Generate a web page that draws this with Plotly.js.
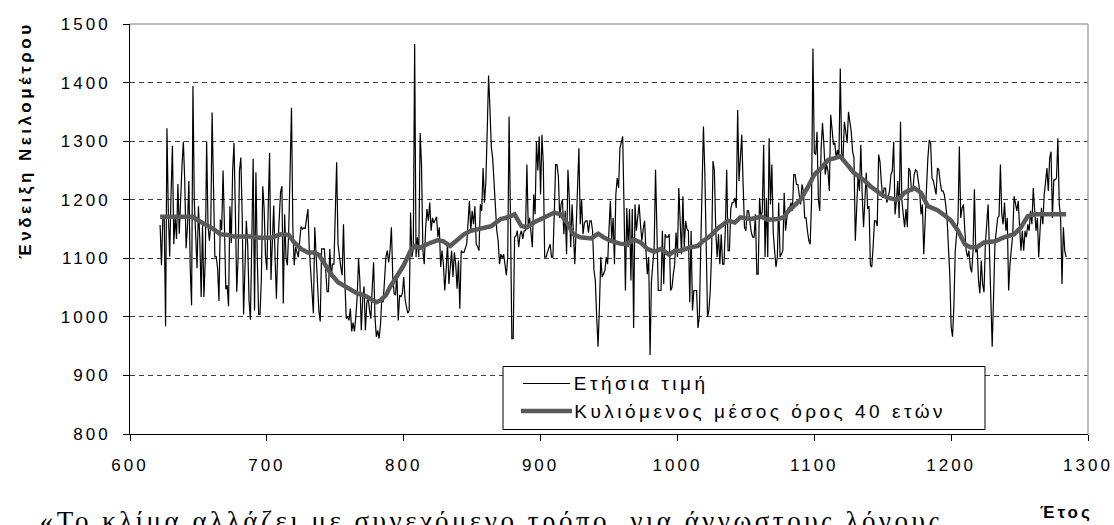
<!DOCTYPE html>
<html>
<head>
<meta charset="utf-8">
<script src="https://cdn.plot.ly/plotly-3.0.1.min.js"></script>
<style>
html,body{margin:0;padding:0;background:#fff;}
#chart{width:1114px;height:525px;}
#chart .xtick text,#chart .ytick text{letter-spacing:3px;}
#chart .annotation[data-index="0"] text{letter-spacing:3.5px;}
#chart .annotation[data-index="1"] text{letter-spacing:3px;}
#chart .annotation[data-index="2"] text{letter-spacing:3.5px;}
#chart .annotation[data-index="3"] text{letter-spacing:3.5px;}
#chart .annotation[data-index="4"] text{letter-spacing:3.5px;}
</style>
</head>
<body>
<div id="chart"></div>
<script>
// Annual Nilometer readings, first year 622
const firstYear = 622;
const vals600s = [1157,1088,1169,1169,984,1322,1178,1103,
1211,1292,1124,1171,1133,1227,1142,1216,1259,1299,
1232,1117,1155,1232,1083,1020,1394,1196,1148,1083,
1189,1133,1034,1157,1034,1097,1299,1157,1130,1155,
1349,1232,1103,1103,1083,1027,1166,1148,1250,1155,
1047,1054,1018,1189,1126,1250,1297,1178,1043,1103,
1250,1272,1169,1004,1083,1164,1124,1027,995,1169,
1270,1011,1247,1101,1004,1004,1065,1223,1185,1105];
const vals700s = [1080,1188,1280,1063,1126,1190,1100,1031,1120,1180,
1212,1223,1023,1175,1100,1088,1150,1250,1357,1150,
1088,1119,1110,1102,1130,1154,1150,1152,1151,1170,
1184,1116,1080,1045,1006,1153,1100,1040,1010,992,
1116,1116,1116,1080,1043,1043,1116,1068,1090,1090,
1180,1264,1124,1099,1085,1071,1158,1060,997,1000,
994,1014,975,990,975,1000,1034,1099,1060,977,
1030,1052,977,1023,1034,1011,997,1050,1093,1000,
966,977,963,986,1031,1025,1060,1102,1113,1093,
1113,1153,1068,1040,1037,1073,994,1037,1034,1040];
const vals800s = [1068,1030,1017,1006,1011,1178,1102,1116,1466,1102,
1136,1102,1314,1260,1113,1090,1150,1184,1164,1195,
1147,1169,1160,1165,1171,1136,1153,1085,1113,1090,
1045,1080,1127,1056,1090,1113,1068,1110,1090,1048,
1096,1014,1113,1110,1110,1119,1124,1160,1198,1147,
1181,1158,1189,1124,1120,1113,1192,1181,1254,1195,
1230,1316,1412,1356,1290,1271,1232,1192,1147,1130,
1090,1107,1100,1107,1090,1071,1102,1342,1169,963,
963,1136,1138,1147,1119,1140,1147,1133,1147,1147,
1260,1153,1169,1140,1119,1209,1175,1299,1250,1308];
const vals900s = [1209,1311,1260,1102,1102,1110,1119,1124,1102,1102,
1175,1260,1260,1240,1169,1192,1200,1141,1181,1107,
1251,1203,1119,1192,1144,1090,1150,1215,1288,1158,
1200,1141,1160,1164,1164,1144,1164,1164,1147,1080,
1062,1000,949,1017,1102,1068,1073,1079,1102,1090,
1150,1198,1130,1169,1090,1209,1237,1220,1288,1297,
1308,1184,1045,1186,1119,1184,1062,1184,981,1192,
1147,1170,1192,1158,1130,1150,1164,1113,1073,1102,
935,1060,1096,1119,1251,1119,1045,1045,1045,1147,
1056,1141,1136,1136,1141,1045,1050,1073,1090,1144];
const vals1000s = [1102,1220,1153,1107,1206,1119,1164,1150,1147,1025,
1147,1011,1045,1045,1045,981,1000,1113,1226,1325,
1249,1124,1000,1011,1045,1113,1266,1250,1147,1102,
1141,1090,1141,1090,1090,1150,1251,1113,1113,1184,
1195,1195,1203,1186,1353,1232,1270,1311,1226,1153,
1147,1181,1181,1160,1144,1136,1136,1175,1073,1073,
1203,1169,1180,1294,1102,1203,1102,1305,1192,1260,
1144,1113,1085,1102,1195,1102,1107,1113,1212,1147,
1169,1186,1186,1195,1181,1243,1243,1226,1226,1203,
1192,1226,1215,1169,1169,1147,1130,1124,1198,1458];
const vals1100s = [1280,1277,1316,1200,1181,1288,1331,1294,1243,1260,
1249,1215,1345,1320,1294,1297,1271,1285,1271,1424,
1280,1271,1333,1316,1297,1350,1330,1316,1282,1271,
1130,1200,1243,1215,1294,1209,1153,1200,1246,1184,
1189,1088,1085,1120,1164,1164,1155,1277,1265,1230,
1203,1220,1220,1195,1205,1215,1243,1249,1299,1175,
1198,1232,1169,1333,1198,1170,1153,1184,1153,1254,
1249,1215,1215,1243,1251,1249,1230,1215,1175,1192,
1107,1181,1220,1271,1302,1297,1237,1232,1220,1209,
1254,1251,1230,1215,1215,1209,1192,1169,1120,1073];
const vals1200s = [983,966,1017,1113,1141,1164,1291,1169,1186,1192,
1147,1113,1102,1113,1085,1076,1113,1218,1110,1119,
1062,1040,1096,1056,1042,1124,1158,1192,1113,1034,
949,1034,1124,1147,1169,1172,1260,1175,1158,1195,
1147,1169,1045,1090,1113,1141,1206,1192,1181,1198,
1160,1113,1147,1113,1147,1136,1158,1147,1181,1158,
1220,1181,1147,1169,1102,1150,1186,1158,1209,1230,
1254,1215,1271,1282,1169,1234,1234,1237,1305,1192,
1169,1056,1153,1113,1102];

// 40-year rolling mean
const maYears = [622,646,651,656,661,666,671,676,681,688,695,703,710,716,720,725,730,734,738,742,747,752,756,761,766,771,776,780,783,787,790,795,800,805,808,812,817,825,829,834,839,844,849,856,864,871,876,881,886,890,895,903,910,915,920,924,929,937,942,946,951,958,963,968,973,978,983,988,994,998,1002,1010,1015,1019,1024,1029,1037,1042,1046,1054,1061,1066,1073,1078,1080,1085,1090,1095,1100,1105,1110,1115,1119,1124,1129,1137,1141,1149,1154,1161,1166,1173,1178,1183,1190,1197,1200,1205,1210,1214,1219,1224,1232,1239,1246,1251,1256,1261,1284];
const maValues = [1171,1171,1163,1157,1150,1141,1140,1137,1137,1137,1135,1135,1141,1140,1127,1116,1110,1110,1106,1090,1073,1059,1054,1046,1040,1037,1031,1025,1028,1037,1051,1068,1088,1113,1121,1118,1124,1131,1129,1121,1130,1141,1147,1150,1155,1167,1170,1175,1155,1153,1161,1170,1178,1175,1158,1141,1136,1134,1142,1136,1130,1125,1124,1132,1127,1116,1111,1116,1106,1113,1113,1119,1121,1130,1138,1150,1164,1161,1170,1167,1171,1166,1167,1170,1178,1189,1200,1220,1243,1254,1268,1271,1274,1260,1246,1232,1223,1209,1203,1200,1212,1220,1212,1189,1182,1170,1164,1147,1124,1119,1119,1127,1129,1136,1141,1153,1172,1175,1175];

const seriesNames = ['Ετήσια τιμή', 'Κυλιόμενος μέσος όρος 40 ετών'];
const yTitle = 'Ένδειξη Νειλομέτρου';
const xTitle = 'Έτος';
const quote = '«Το κλίμα αλλάζει με συνεχόμενο τρόπο, για άγνωστους λόγους';

const annual = [].concat(vals600s, vals700s, vals800s, vals900s, vals1000s, vals1100s, vals1200s);
const years = annual.map((_, i) => firstYear + i);

const FONT = 'Liberation Sans, Arial, sans-serif';
const RAW_COLOR = '#000000', MA_COLOR = '#595959';
const traces = [
  {x: years, y: annual, type: 'scatter', mode: 'lines', name: seriesNames[0],
   line: {color: RAW_COLOR, width: 1.2}, showlegend: false},
  {x: maYears, y: maValues, type: 'scatter', mode: 'lines', name: seriesNames[1],
   line: {color: MA_COLOR, width: 4.5}, showlegend: false}
];

// legend box drawn in paper coordinates (plot area: x 130..1088 px, y 24.5..434.5 px)
const px = v => (v - 130) / 958;
const py = v => (434.5 - v) / 410;

const layout = {
  width: 1114, height: 525,
  margin: {l: 130, r: 26, t: 24, b: 91, pad: 0},
  paper_bgcolor: '#ffffff', plot_bgcolor: '#ffffff',
  font: {family: FONT, size: 17, color: '#000000'},
  showlegend: false,
  xaxis: {range: [600, 1300], dtick: 100, tick0: 600, showgrid: false, zeroline: false,
          showline: true, linecolor: '#000000', linewidth: 1,
          ticks: 'outside', ticklen: 6, tickcolor: '#000000', tickwidth: 1,
          ticklabelstandoff: 10,
          tickfont: {family: FONT, size: 17, color: '#000000'}},
  yaxis: {range: [800, 1500], dtick: 100, tick0: 800, zeroline: false,
          showgrid: true, gridcolor: '#404040', gridwidth: 1, griddash: '5px,4px',
          showline: true, linecolor: '#000000', linewidth: 1,
          ticks: 'outside', ticklen: 6, tickcolor: '#000000', tickwidth: 1,
          ticklabelstandoff: 9,
          tickfont: {family: FONT, size: 17, color: '#000000'}},
  shapes: [
    {type: 'line', xref: 'paper', yref: 'paper', x0: 0, x1: 1, y0: 1, y1: 1,
     line: {color: '#a6a6a6', width: 1.5}, layer: 'above'},
    {type: 'line', xref: 'paper', yref: 'paper', x0: 1, x1: 1, y0: 0, y1: 1,
     line: {color: '#a6a6a6', width: 1.5}, layer: 'above'},
    // legend
    {type: 'rect', xref: 'paper', yref: 'paper', x0: px(503), x1: px(985), y0: py(430), y1: py(367),
     line: {color: '#000000', width: 1}, fillcolor: '#ffffff', layer: 'above'},
    {type: 'line', xref: 'paper', yref: 'paper', x0: px(523), x1: px(570), y0: py(384), y1: py(384),
     line: {color: RAW_COLOR, width: 1.2}, layer: 'above'},
    {type: 'line', xref: 'paper', yref: 'paper', x0: px(521), x1: px(572), y0: py(411.5), y1: py(411.5),
     line: {color: MA_COLOR, width: 4.5}, layer: 'above'}
  ],
  annotations: [
    {text: '<b>' + yTitle + '</b>', xref: 'paper', yref: 'paper', x: px(25), y: py(141),
     xanchor: 'center', yanchor: 'middle', textangle: -90, showarrow: false,
     font: {family: FONT, size: 17, color: '#000000'}},
    {text: '<b>' + xTitle + '</b>', xref: 'paper', yref: 'paper', x: px(1066), y: py(513),
     xanchor: 'center', yanchor: 'middle', showarrow: false,
     font: {family: FONT, size: 17, color: '#000000'}},
    {text: quote, xref: 'paper', yref: 'paper', x: px(491), y: py(521),
     xanchor: 'center', yanchor: 'middle', showarrow: false,
     font: {family: 'Liberation Serif, Times New Roman, serif', size: 27, color: '#000000'}},
    {text: seriesNames[0], xref: 'paper', yref: 'paper', x: px(641), y: py(384),
     xanchor: 'center', yanchor: 'middle', showarrow: false,
     font: {family: FONT, size: 19, color: '#000000'}},
    {text: seriesNames[1], xref: 'paper', yref: 'paper', x: px(760), y: py(411.5),
     xanchor: 'center', yanchor: 'middle', showarrow: false,
     font: {family: FONT, size: 19, color: '#000000'}}
  ]
};

Plotly.newPlot('chart', traces, layout, {displayModeBar: false, responsive: false});
</script>
</body>
</html>
